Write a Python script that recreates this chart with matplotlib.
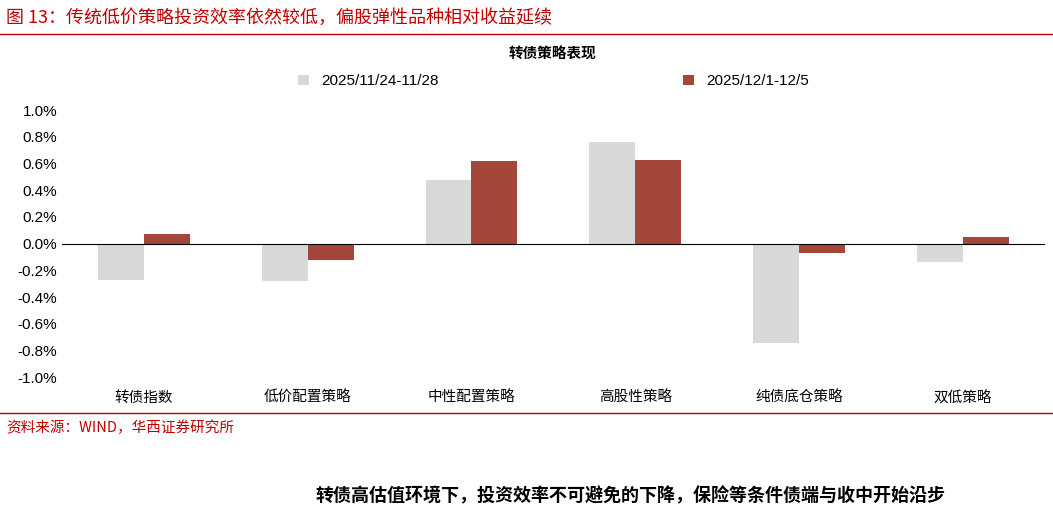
import matplotlib
matplotlib.use("Agg")
import matplotlib.pyplot as plt
import numpy as np
from matplotlib.ticker import FuncFormatter

plt.rcParams['font.family'] = ['Noto Sans CJK SC', 'DejaVu Sans']

categories = ["转债指数", "低价配置策略", "中性配置策略", "高股性策略", "纯债底仓策略", "双低策略"]
series1_name = "2025/11/24-11/28"
series2_name = "2025/12/1-12/5"
series1 = [-0.27, -0.28, 0.48, 0.76, -0.74, -0.14]
series2 = [0.07, -0.12, 0.62, 0.63, -0.07, 0.05]

fig = plt.figure(figsize=(10.53, 5.05), dpi=100)
red = "#c00000"
fig.text(0.006, 0.965, "图 13：传统低价策略投资效率依然较低，偏股弹性品种相对收益延续",
         color=red, fontsize=13, va="center", ha="left")
fig.add_artist(plt.Line2D([0.0, 1.0], [0.933, 0.933], color=red, lw=1))
fig.add_artist(plt.Line2D([0.0, 1.0], [0.183, 0.183], color=red, lw=1))
fig.text(0.006, 0.152, "资料来源：WIND，华西证券研究所", color=red, fontsize=10.5, va="center")
fig.text(0.3, 0.018, "转债高估值环境下，投资效率不可避免的下降，保险等条件债端与收中开始沿步",
         fontsize=13, fontweight="bold", va="center")
fig.text(0.525, 0.893, "转债策略表现", fontsize=10.5, fontweight="bold", ha="center", va="center")

ax = fig.add_axes([0.059, 0.253, 0.933, 0.529])
x = np.arange(len(categories))
w = 0.28
ax.bar(x - w/2, series1, w, color="#d9d9d9", label=series1_name)
ax.bar(x + w/2, series2, w, color="#a5463b", label=series2_name)
ax.set_xlim(-0.5, 5.5)
ax.set_ylim(-1.0, 1.0)
ax.set_yticks(np.arange(-1.0, 1.01, 0.2))
ax.yaxis.set_major_formatter(FuncFormatter(lambda v, p: f"{0.0 if abs(v) < 1e-9 else v:.1f}%"))
ax.tick_params(axis='y', labelsize=11, length=0)
for t in ax.get_yticklabels():
    t.set_family(['Liberation Sans', 'DejaVu Sans'])
ax.set_xticks(x)
ax.set_xticklabels(categories, fontsize=10.5)
ax.tick_params(axis='x', length=0, pad=10)
for s in ax.spines.values():
    s.set_visible(False)
ax.axhline(0, color="black", lw=0.8)
leg = ax.legend(loc="lower center", bbox_to_anchor=(0.5, 1.03), ncol=2, frameon=False,
                fontsize=11, columnspacing=16, handlelength=0.7, handleheight=0.7,
                prop={'family': ['Liberation Sans', 'DejaVu Sans'], 'size': 11})
fig.savefig("out.png", dpi=100)
